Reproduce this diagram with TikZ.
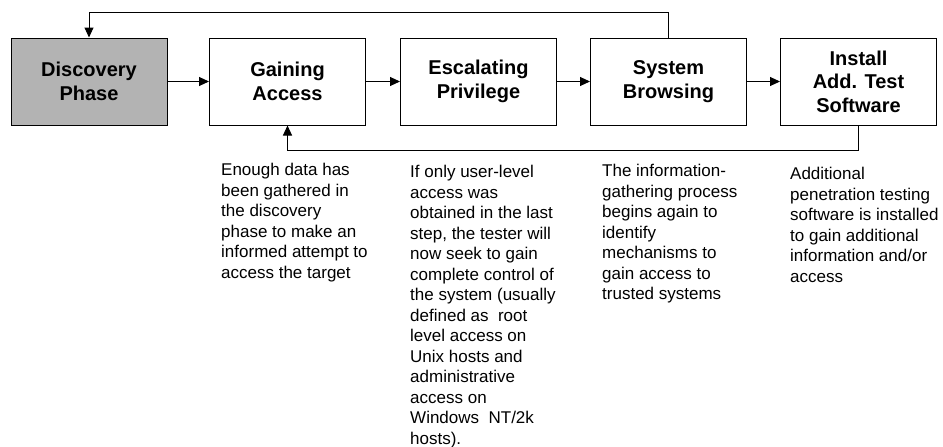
\documentclass[tikz,border=0pt]{standalone}
\usepackage{fontspec}
\setmainfont{Liberation Sans}
\usetikzlibrary{arrows.meta}
\definecolor{boxgray}{HTML}{B3B3B3}
\tikzset{
  phasebox/.style={draw=black, line width=1pt, minimum width=156pt, minimum height=87pt,
    inner sep=0pt, align=center, font=\bfseries\fontsize{20}{23.5}\selectfont},
  note/.style={anchor=north west, inner sep=0pt, align=left, font=\fontsize{17}{20.5}\selectfont},
  flow/.style={line width=1pt, -{Triangle[length=10pt,width=9pt]}}
}
\begin{document}
\begin{tikzpicture}[x=1pt,y=-1pt]
\useasboundingbox (0,0) rectangle (943,447);
\node[phasebox, fill=boxgray] (b1) at (89,81.5) {Discovery\\Phase};
\node[phasebox] (b2) at (287.5,81.5) {Gaining\\Access};
\node[phasebox] (b3) at (478.5,81.5) {Escalating\\Privilege};
\node[phasebox] (b4) at (668.5,81.5) {System\\Browsing};
\node[phasebox] (b5) at (858.5,81.5) {Install\\Add. Test\\Software};
\coordinate (top) at (0,12);
\coordinate (bot) at (0,150);
\draw[flow] (b1) -- (b2);
\draw[flow] (b2) -- (b3);
\draw[flow] (b3) -- (b4);
\draw[flow] (b4) -- (b5);
\draw[flow] (b4.north) -- (b4.north |- top) -| (b1.north);
\draw[flow] (b5.south) -- (b5.south |- bot) -| (b2.south);
\node[note] (t1) at (221,163) {Enough data has\\been gathered in\\the discovery\\phase to make an\\informed attempt to\\access the target};
\node[note] (t2) at (410,165) {If only user-level\\access was\\obtained in the last\\step, the tester will\\now seek to gain\\complete control of\\the system (usually\\defined as\ \ root\\level access on\\Unix hosts and\\administrative\\access on\\Windows\ \ NT/2k\\hosts).};
\node[note] (t3) at (602,164) {The information-\\gathering process\\begins again to\\identify\\mechanisms to\\gain access to\\trusted systems};
\node[note] (t4) at (790,167) {Additional\\penetration testing\\software is installed\\to gain additional\\information and/or\\access};
\end{tikzpicture}
\end{document}
